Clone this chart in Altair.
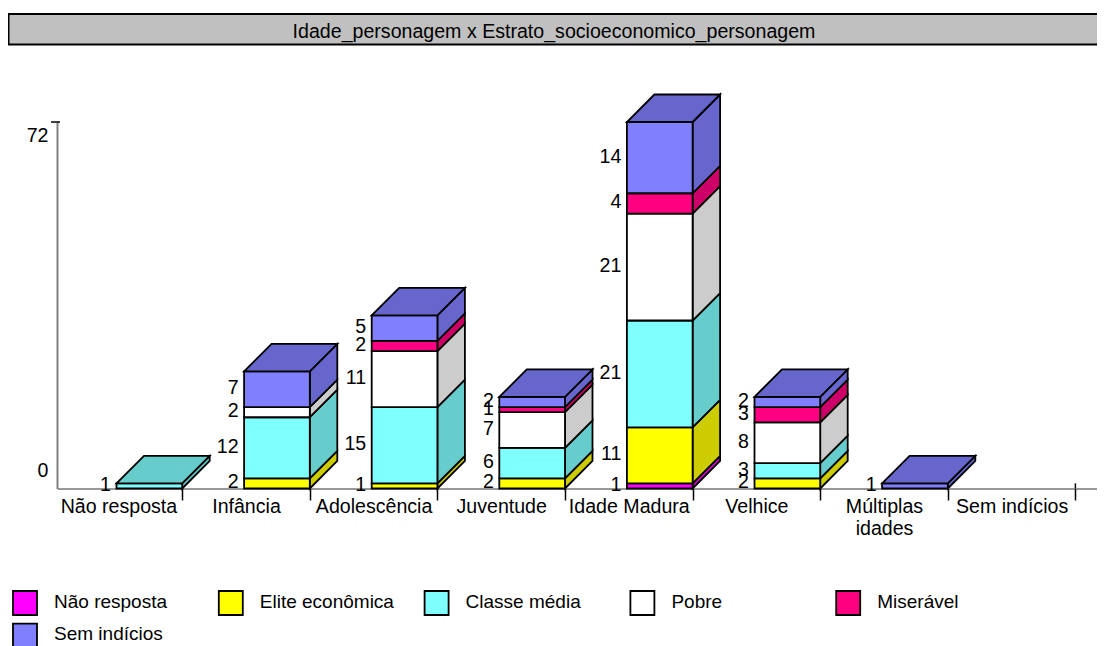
import json
import altair as alt
import pandas as pd

TITLE = "Idade_personagem x Estrato_socioeconomico_personagem"
CATEGORIES = ["Não resposta", "Infância", "Adolescência", "Juventude", "Idade Madura", "Velhice", "Múltiplas idades", "Sem indícios"]
STRATA = ["Não resposta", "Elite econômica", "Classe média", "Pobre", "Miserável", "Sem indícios"]
NAO_RESPOSTA = [0, 0, 0, 0, 1, 0, 0, 0]
ELITE = [0, 2, 1, 2, 11, 2, 0, 0]
MEDIA = [1, 12, 15, 6, 21, 3, 0, 0]
POBRE = [0, 2, 11, 7, 21, 8, 0, 0]
MISERAVEL = [0, 0, 2, 1, 4, 3, 0, 0]
SEM_INDICIOS = [0, 7, 5, 2, 14, 2, 1, 0]
SERIES = [NAO_RESPOSTA, ELITE, MEDIA, POBRE, MISERAVEL, SEM_INDICIOS]
FRONT = ["#FF00FF", "#FFFF00", "#80FFFF", "#FFFFFF", "#FF0080", "#8080FF"]
SIDE = ["#CC00CC", "#CCCC00", "#66CCCC", "#CCCCCC", "#CC0066", "#6666CC"]
Y_MAX = 72

# layout (page pixels)
LEFT, TOP, BASE, RIGHT = 57, 122, 488.5, 1097
SLOT, SLOT0 = 127.6, 54.6
PAD_L, PAD_T = LEFT - 8, TOP - 8
W = RIGHT - LEFT
H = BASE - TOP
FONT = "Liberation Sans"
FS = 19.6
FS_LEG = 19
EDGE = 1.8
BAR_W = 65.7 / SLOT
DX = 27.5 / SLOT
DY = 27.5 / (H / Y_MAX)

front, side, top, labels = [], [], [], []
for c in range(len(CATEGORIES)):
    cum = 0
    right = c + 1
    left = right - BAR_W
    last = None
    for s, ser in enumerate(SERIES):
        v = ser[c]
        if not v:
            continue
        lo, hi = cum, cum + v
        cum = hi
        fid = f"{c}-{s}"
        front.append(dict(id=fid, x=left, x2=right, y=lo, y2=hi, fill=FRONT[s]))
        side.append(dict(id=fid, x=right, y=lo, y2=hi, fill=SIDE[s]))
        side.append(dict(id=fid, x=right + DX, y=lo + DY, y2=hi + DY, fill=SIDE[s]))
        labels.append(dict(x=left, y=(lo + hi) / 2, t=str(v)))
        last = s
    if last is not None:
        top.append(dict(id=str(c), x=left, x2=right, y=cum, fill=SIDE[last]))
        top.append(dict(id=str(c), x=left + DX, x2=right + DX, y=cum + DY, fill=SIDE[last]))

xs = alt.Scale(domain=[(LEFT - SLOT0) / SLOT, (RIGHT - SLOT0) / SLOT], nice=False, zero=False)
ys = alt.Scale(domain=[0, Y_MAX], nice=False, zero=False)
label_js = json.dumps([n.split(" ") if n == "Múltiplas idades" else n for n in CATEGORIES], ensure_ascii=False)

x_enc = alt.X("x:Q", scale=xs, title=None, axis=alt.Axis(
    values=list(range(1, 9)), grid=False, labelExpr=f"{label_js}[datum.value-1]",
    labelOffset=-SLOT / 2, labelFont=FONT, labelFontSize=FS, labelColor="#000000",
    labelPadding=-3, labelLineHeight=22, labelFlush=False, labelOverlap=False,
    tickColor="#000000", tickWidth=1.5, tickSize=11.5, domainColor="#333333", domainWidth=1))
y_enc = alt.Y("y:Q", scale=ys, title=None, stack=None, axis=alt.Axis(
    values=[0, Y_MAX], grid=False, labelFont=FONT, labelFontSize=FS, labelColor="#000000",
    labelOffset={"condition": {"test": f"datum.value == {Y_MAX}", "value": 13}, "value": -18},
    labelPadding=9, tickSize=0, domainColor="#808080", domainWidth=2))

up_ticks = alt.Chart(pd.DataFrame({"x": list(range(1, 9)), "y": [0] * 8, "y2": [1] * 8})).mark_rule(
    color="#000000", strokeWidth=1.5).encode(x=x_enc, y=y_enc, y2="y2:Q")
sides = alt.Chart(pd.DataFrame(side)).mark_area(stroke="black", strokeWidth=EDGE, orient="vertical").encode(
    x=x_enc, y=y_enc, y2="y2:Q", detail="id:N", fill=alt.Fill("fill:N", scale=None))
fronts = alt.Chart(pd.DataFrame(front)).mark_rect(stroke="black", strokeWidth=EDGE).encode(
    x="x:Q", x2="x2:Q", y="y:Q", y2="y2:Q", fill=alt.Fill("fill:N", scale=None))
tops = alt.Chart(pd.DataFrame(top)).mark_area(stroke="black", strokeWidth=EDGE, orient="horizontal").encode(
    x="x:Q", x2="x2:Q", y=alt.Y("y:Q", stack=None), detail="id:N", fill=alt.Fill("fill:N", scale=None))
vals = alt.Chart(pd.DataFrame(labels)).mark_text(
    align="right", baseline="middle", dx=-5.5, dy=-1, font=FONT, fontSize=FS, color="#000000").encode(
    x="x:Q", y="y:Q", text="t:N")
top_tick = alt.Chart(pd.DataFrame({"y": [Y_MAX]})).mark_rule(color="#000000", strokeWidth=1.5).encode(
    x=alt.value(-6), x2=alt.value(3), y="y:Q")

title_bar = alt.Chart(pd.DataFrame({"a": [1]})).mark_rect(fill="#C0C0C0", stroke="#000000", strokeWidth=2).encode(
    x=alt.value(8 - LEFT + 0.5), x2=alt.value(1120 - LEFT), y=alt.value(14 - TOP), y2=alt.value(44.5 - TOP))
title_text = alt.Chart(pd.DataFrame({"t": [TITLE]})).mark_text(
    align="center", baseline="middle", font=FONT, fontSize=FS, color="#000000").encode(
    x=alt.value(554 - LEFT), y=alt.value(32 - TOP), text="t:N")

# legend: raw pixel positions, no scales
SW = 24
leg = []
for i, name in enumerate(STRATA):
    col, row = i % 5, i // 5
    px = 13 + col * 205.8
    py = 591 + row * 32.7
    leg.append(dict(px=px - LEFT, px2=px + SW - LEFT, py=py - TOP, py2=py + SW - TOP,
                    tx=px + 41 - LEFT, ty=py + 10.5 - TOP, name=name, fill=FRONT[i]))
leg_df = pd.DataFrame(leg)
leg_box = alt.Chart(leg_df).mark_rect(stroke="#000000", strokeWidth=EDGE).encode(
    x=alt.X("px:Q", scale=None), x2="px2:Q", y=alt.Y("py:Q", scale=None), y2="py2:Q",
    fill=alt.Fill("fill:N", scale=None))
leg_txt = alt.Chart(leg_df).mark_text(
    align="left", baseline="middle", font=FONT, fontSize=FS_LEG, color="#000000").encode(
    x=alt.X("tx:Q", scale=None), y=alt.Y("ty:Q", scale=None), text="name:N")

chart = alt.layer(title_bar, title_text, up_ticks, sides, fronts, tops, vals, top_tick, leg_box, leg_txt).properties(
    width=W, height=H, autosize=alt.AutoSizeParams(type="none"),
    padding={"left": PAD_L, "top": PAD_T, "right": 0, "bottom": 638 - PAD_T - H},
).configure_view(stroke=None)

chart.save("out.html", embed_options={"renderer": "svg", "actions": False})
